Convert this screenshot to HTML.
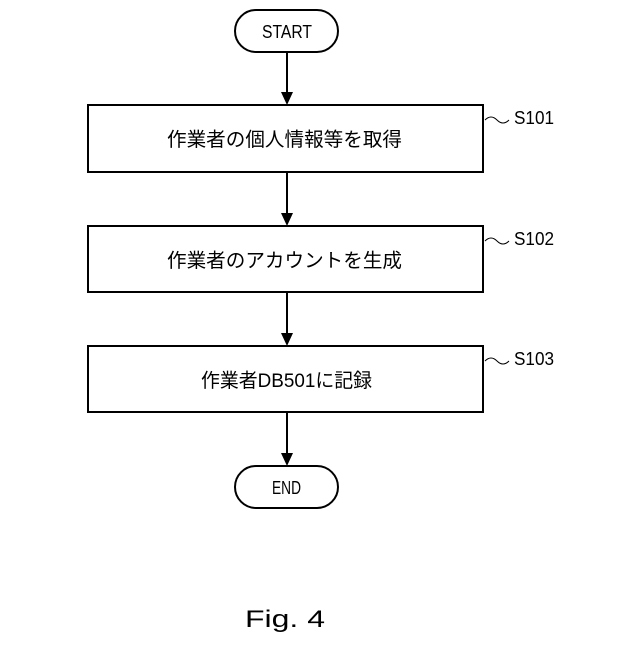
<!DOCTYPE html>
<html><head><meta charset="utf-8"><style>
body{margin:0;background:#fff}
text{font-family:"Liberation Sans","Noto Sans CJK JP",sans-serif;fill:#000}
</style></head><body>
<svg width="640" height="640" viewBox="0 0 640 640" xmlns="http://www.w3.org/2000/svg">
<g fill="none" stroke="#000" stroke-width="2">
<rect x="235" y="10" width="103" height="42" rx="21"/>
<rect x="88" y="105" width="395" height="67"/>
<rect x="88" y="226" width="395" height="66"/>
<rect x="88" y="346" width="395" height="66"/>
<rect x="235" y="466" width="103" height="42" rx="21"/>
<line x1="287" y1="52" x2="287" y2="94"/>
<line x1="287" y1="172" x2="287" y2="215"/>
<line x1="287" y1="292" x2="287" y2="335"/>
<line x1="287" y1="412" x2="287" y2="455"/>
</g>
<g fill="#000">
<polygon points="281,92 293,92 287,105"/>
<polygon points="281,213 293,213 287,226"/>
<polygon points="281,333 293,333 287,346"/>
<polygon points="281,453 293,453 287,466"/>
</g>
<g fill="none" stroke="#000" stroke-width="1">
<path d="M485,120 q6,-6 12,0 t12,0"/>
<path d="M485,241 q6,-6 12,0 t12,0"/>
<path d="M485,361 q6,-6 12,0 t12,0"/>
</g>
<g font-size="18">
<text x="262" y="38" textLength="50" lengthAdjust="spacingAndGlyphs">START</text>
<text x="272" y="494" textLength="29" lengthAdjust="spacingAndGlyphs">END</text>
<text x="167" y="146" font-size="19.5" textLength="235" lengthAdjust="spacingAndGlyphs">作業者の個人情報等を取得</text>
<text x="167" y="267" font-size="19.5" textLength="235" lengthAdjust="spacingAndGlyphs">作業者のアカウントを生成</text>
<text x="201" y="387" font-size="19.5" textLength="171" lengthAdjust="spacingAndGlyphs">作業者DB501に記録</text>
<text x="514" y="124" textLength="40" lengthAdjust="spacingAndGlyphs">S101</text>
<text x="514" y="245" textLength="40" lengthAdjust="spacingAndGlyphs">S102</text>
<text x="514" y="365" textLength="40" lengthAdjust="spacingAndGlyphs">S103</text>
</g>
<text x="245" y="627" font-size="24" font-family="Liberation Mono,monospace" textLength="80" lengthAdjust="spacingAndGlyphs">Fig. 4</text>
</svg>
</body></html>
